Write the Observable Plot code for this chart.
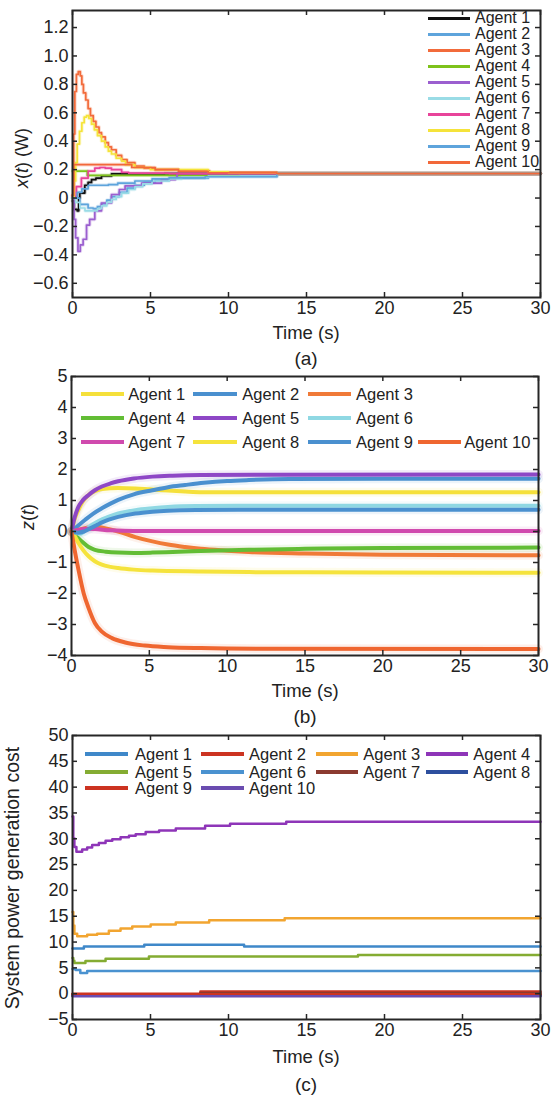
<!DOCTYPE html>
<html><head><meta charset="utf-8">
<script src="https://cdn.jsdelivr.net/npm/d3@7"></script>
<script src="https://cdn.jsdelivr.net/npm/@observablehq/plot@0.6"></script>
<style>
body{margin:0;background:#fff;}
#root{position:relative;width:551px;height:1099px;overflow:hidden;font-family:"Liberation Sans",Arial,sans-serif;color:#222;}
.abs{position:absolute;white-space:nowrap;}
.panel{position:absolute;left:0;}
</style></head><body><div id="root"></div>
<script>
// ---------- categories & ticks ----------
const agents = ["Agent 1","Agent 2","Agent 3","Agent 4","Agent 5","Agent 6","Agent 7","Agent 8","Agent 9","Agent 10"];
const timeTicks = [0,5,10,15,20,25,30];
const ticksA = [-0.6,-0.4,-0.2,0,0.2,0.4,0.6,0.8,1.0,1.2];
const ticksB = [-4,-3,-2,-1,0,1,2,3,4,5];
const ticksC = [-5,0,5,10,15,20,25,30,35,40,45,50];

// ---------- panel (a): x(t) (W), [t, value] ----------
const xA1 = [[0,-0.02],[0.1,-0.08],[0.3,-0.09],[0.4,0.0],[0.47,0.035],[0.79,0.09],[1.0,0.11],[1.22,0.13],[1.5,0.14],[1.86,0.155],[2.5,0.17],[5.9,0.172],[30,0.172]];
const xA2 = [[0,0],[0.47,-0.045],[1.0,-0.07],[1.33,-0.075],[1.6,-0.06],[1.86,-0.04],[2.2,-0.015],[2.5,0.01],[3.0,0.04],[3.5,0.07],[4.0,0.09],[4.6,0.11],[5.3,0.125],[6.2,0.14],[8.7,0.155],[13.1,0.172],[30,0.172]];
const xA3 = [[0,0.02],[0.08,0.45],[0.15,0.75],[0.25,0.87],[0.37,0.89],[0.5,0.86],[0.6,0.8],[0.7,0.74],[0.85,0.69],[1.0,0.63],[1.15,0.58],[1.33,0.54],[1.5,0.5],[1.7,0.46],[1.86,0.43],[2.1,0.39],[2.3,0.36],[2.5,0.34],[2.8,0.3],[3.15,0.27],[3.5,0.25],[4.0,0.225],[4.6,0.21],[5.3,0.2],[6.8,0.19],[8.8,0.18],[13.1,0.172],[30,0.172]];
const xA4 = [[0,0.19],[0.95,0.16],[10.7,0.172],[30,0.172]];
const xA5 = [[0,0],[0.1,-0.15],[0.2,-0.28],[0.35,-0.375],[0.5,-0.33],[0.68,-0.29],[0.9,-0.19],[1.1,-0.15],[1.43,-0.09],[1.86,-0.035],[2.5,0.025],[3.0,0.06],[3.37,0.085],[4.44,0.105],[5.7,0.13],[6.6,0.14],[6.7,0.172],[30,0.172]];
const xA6 = [[0,0],[0.2,-0.03],[0.47,-0.07],[0.8,-0.09],[1.33,-0.09],[1.6,-0.075],[1.86,-0.055],[2.2,-0.03],[2.5,-0.01],[2.8,0.01],[3.15,0.035],[3.6,0.06],[4.0,0.08],[4.5,0.1],[5.1,0.12],[6.2,0.135],[7,0.145],[8.7,0.155],[13.1,0.172],[30,0.172]];
const xA7 = [[0,0.01],[0.25,0.08],[0.57,0.14],[1.0,0.19],[1.43,0.21],[1.75,0.215],[2.1,0.21],[2.5,0.2],[3.15,0.18],[3.6,0.175],[6.2,0.172],[30,0.172]];
const xA8 = [[0,0.0],[0.1,0.12],[0.2,0.25],[0.3,0.38],[0.45,0.47],[0.6,0.53],[0.75,0.57],[0.9,0.58],[1.05,0.56],[1.22,0.52],[1.4,0.48],[1.6,0.44],[1.86,0.4],[2.1,0.36],[2.3,0.33],[2.5,0.31],[2.8,0.28],[3.15,0.26],[3.4,0.235],[4.0,0.215],[5.0,0.2],[8.7,0.185],[10,0.178],[13.1,0.172],[30,0.172]];
const xA9 = [[0,0],[0.3,0.04],[0.6,0.065],[1.0,0.09],[2.3,0.095],[2.9,0.105],[4.0,0.12],[5.1,0.135],[6.2,0.142],[8.5,0.15],[13.1,0.172],[30,0.172]];
const xA10 = [[0,0.02],[0.08,0.235],[3.8,0.215],[5.3,0.2],[6.8,0.188],[8.7,0.178],[13.1,0.172],[30,0.172]];
const colorsA = ["#111111","#5ea4dc","#f26b3b","#7ec21b","#9b5fcf","#9adce6","#e8449a","#f5e33a","#5ea4dc","#f2683a"];

// ---------- panel (b): z(t) ----------
const zB1 = [[0,0],[0.2,0.4],[0.45,0.7],[0.7,0.95],[1.1,1.18],[1.5,1.3],[1.95,1.37],[3,1.4],[4.1,1.39],[5,1.36],[6.2,1.32],[7.3,1.29],[8.4,1.27],[30,1.27]];
const zB2 = [[0,0],[0.4,0.18],[0.88,0.38],[1.4,0.58],[1.95,0.75],[2.5,0.9],[3.0,1.02],[4,1.2],[5.2,1.33],[6.2,1.43],[7.3,1.5],[8.5,1.57],[10,1.63],[11.4,1.66],[14,1.69],[20,1.7],[30,1.7]];
const zB3 = [[0,0],[0.5,0.06],[1,0.12],[1.6,0.15],[2.2,0.1],[3,0.0],[4.1,-0.18],[5.2,-0.32],[6.2,-0.42],[7.3,-0.5],[8.3,-0.56],[10,-0.62],[11.4,-0.66],[15,-0.71],[20,-0.75],[30,-0.77]];
const zB4 = [[0,0],[0.3,-0.15],[0.66,-0.32],[1.1,-0.5],[1.5,-0.59],[2.2,-0.65],[3,-0.68],[4,-0.69],[5.2,-0.68],[6.5,-0.66],[8.3,-0.63],[11.4,-0.59],[15,-0.56],[20,-0.53],[30,-0.52]];
const zB5 = [[0,0],[0.2,0.45],[0.45,0.8],[0.75,1.02],[1.1,1.18],[1.5,1.33],[1.95,1.45],[2.5,1.55],[3,1.62],[4,1.71],[5.2,1.77],[6.5,1.8],[8.3,1.82],[12,1.83],[30,1.84]];
const zB6 = [[0,0],[0.3,-0.05],[0.6,-0.07],[0.9,0.05],[1.2,0.17],[1.5,0.27],[2,0.4],[2.4,0.48],[3,0.58],[4.1,0.69],[5.2,0.75],[6.2,0.79],[8,0.82],[12,0.83],[30,0.83]];
const zB7 = [[0,0],[0.5,0.06],[1,0.09],[1.5,0.08],[2.5,0.04],[4,0.02],[30,0.02]];
const zB8 = [[0,0],[0.2,-0.15],[0.45,-0.37],[0.75,-0.6],[1.1,-0.8],[1.5,-0.96],[1.95,-1.07],[2.5,-1.14],[3,-1.18],[4,-1.23],[5.2,-1.26],[8.3,-1.29],[11.4,-1.31],[20,-1.32],[30,-1.33]];
const zB9 = [[0,0],[0.4,-0.04],[0.8,0.0],[1.2,0.1],[1.6,0.2],[2,0.3],[2.4,0.38],[3,0.47],[4.1,0.58],[5.2,0.64],[6.2,0.67],[8,0.69],[12,0.7],[30,0.7]];
const zB10 = [[0,0],[0.1,-0.3],[0.2,-0.59],[0.45,-1.24],[0.78,-1.99],[1.1,-2.47],[1.5,-2.95],[1.95,-3.23],[2.6,-3.44],[3.45,-3.58],[4.7,-3.68],[6.2,-3.73],[8.3,-3.76],[12,-3.78],[30,-3.79]];
const colorsB = ["#f5e03a","#4a90cf","#f07a38","#62bd35","#8e47c6","#8fd8e3","#d04aae","#f5e33c","#4a90cf","#ef6630"];

// ---------- panel (c): system power generation cost ----------
const cC1 = [[0,8.75],[0.73,9.15],[4.6,9.5],[11.0,9.15],[30,9.15]];
const cC2 = [[0,0],[8.2,0.4],[30,0.4]];
const cC3 = [[0,15.8],[0.05,13.2],[0.12,11.6],[0.3,11.1],[0.94,11.4],[1.58,11.6],[2.33,12.2],[3.08,12.6],[3.83,13.0],[5.01,13.4],[6.62,13.8],[8.76,14.2],[13.6,14.6],[30,14.6]];
const cC4 = [[0,34.3],[0.05,30.1],[0.12,28.4],[0.25,27.5],[0.62,27.9],[0.94,28.3],[1.26,28.8],[1.69,29.2],[2.12,29.6],[2.55,29.9],[3.08,30.3],[3.62,30.6],[4.05,30.9],[4.69,31.3],[5.55,31.6],[6.62,32.0],[8.5,32.5],[10.1,32.9],[13.7,33.3],[30,33.3]];
const cC5 = [[0,6.9],[0.05,6.4],[0.12,5.96],[0.83,6.35],[2.12,6.75],[4.9,7.2],[18.3,7.5],[30,7.5]];
const cC6 = [[0,4.8],[0.2,4.6],[0.5,4.0],[0.94,4.4],[30,4.4]];
const cC7 = [[0,-0.1],[8.2,0.15],[30,0.15]];
const cC8 = [[0,-0.3],[30,-0.3]];
const cC9 = [[0,-0.1],[30,-0.1]];
const cC10 = [[0,-0.5],[30,-0.5]];
const colorsC = ["#3f88c9","#cc3321","#f2a530","#8e35b8","#84ac32","#4a92d0","#8b3a30","#2d4f9e","#cc3321","#6a4cb0"];

// ---------- helpers ----------
function toRows(list){
  const out=[];
  list.forEach((s,i)=>s.forEach(([t,v])=>out.push({agent:agents[i],t,v})));
  return out;
}
const rowsA = toRows([xA1,xA2,xA3,xA4,xA5,xA6,xA7,xA8,xA9,xA10]);
const rowsB = toRows([zB1,zB2,zB3,zB4,zB5,zB6,zB7,zB8,zB9,zB10]);
const rowsC = toRows([cC1,cC2,cC3,cC4,cC5,cC6,cC7,cC8,cC9,cC10]);

const root = document.getElementById("root");
const FONT = '"Liberation Sans", Arial, sans-serif';
const INK = "#262626";
const TICKFONT = 18;
const minus = s => s.replace("-", "\u2212");

function makePanel(o){
  const fw = o.width - o.marginLeft - o.marginRight;
  const fh = o.height - o.marginTop - o.marginBottom;
  const marks = [];
  if (o.haloWidth) marks.push(Plot.line(o.rows,{x:"t",y:"v",z:"agent",stroke:"agent",strokeWidth:o.haloWidth,strokeOpacity:o.haloOpacity,curve:o.curve}));
  marks.push(Plot.line(o.rows,{x:"t",y:"v",z:"agent",stroke:"agent",strokeWidth:o.lineWidth,curve:o.curve}));
  marks.push(
    Plot.tickX(timeTicks,{x:d=>d,insetTop:fh-5,stroke:INK,strokeWidth:1.5}),
    Plot.tickX(timeTicks,{x:d=>d,insetBottom:fh-5,stroke:INK,strokeWidth:1.5}),
    Plot.tickY(o.yTicks,{y:d=>d,insetRight:fw-5,stroke:INK,strokeWidth:1.5}),
    Plot.tickY(o.yTicks,{y:d=>d,insetLeft:fw-5,stroke:INK,strokeWidth:1.5}),
    Plot.frame({stroke:INK,strokeWidth:2}),
    Plot.axisX(timeTicks,{tickSize:0,tickPadding:4,label:null,tickFormat:d=>String(d),fontSize:TICKFONT}),
    Plot.axisY(o.yTicks,{tickSize:0,tickPadding:4,label:null,tickFormat:o.yFormat,fontSize:TICKFONT})
  );
  const svg = Plot.plot({
    width:o.width,height:o.height,
    marginLeft:o.marginLeft,marginRight:o.marginRight,marginTop:o.marginTop,marginBottom:o.marginBottom,
    x:{domain:[0,30]},
    y:{domain:o.yDomain},
    color:{domain:agents,range:o.colors},
    style:{fontFamily:FONT,fontSize:TICKFONT+"px",color:"#222",background:"transparent",overflow:"visible"},
    marks
  });
  const div = document.createElement("div");
  div.className="panel";
  div.style.top = o.top+"px";
  div.appendChild(svg);
  root.appendChild(div);
}

function addText(html, x, y, size, opts={}){
  const d = document.createElement("div");
  d.className="abs";
  d.innerHTML = html;
  d.style.left = x+"px"; d.style.top = y+"px";
  d.style.fontSize = size+"px";
  d.style.lineHeight = "1";
  d.style.transform = opts.rotate ? "translate(-50%,-50%) rotate(-90deg)" : (opts.center ? "translate(-50%,-50%)" : "translate(0,-50%)");
  root.appendChild(d);
}
function addLegendLine(x1,x2,y,color,th){
  const d = document.createElement("div");
  d.className="abs";
  d.style.left=x1+"px"; d.style.width=(x2-x1)+"px";
  d.style.top=(y-th/2)+"px"; d.style.height=th+"px";
  d.style.background=color;
  root.appendChild(d);
}

// ---------- panel (a) ----------
makePanel({rows:rowsA,colors:colorsA,top:0,width:551,height:322,marginLeft:72,marginRight:11,marginTop:10,marginBottom:25,
  yDomain:[-0.7,1.32],yTicks:ticksA,yFormat:d=>d===0?"0":minus(d.toFixed(1)),curve:"step-after",lineWidth:1.7,haloWidth:3.6,haloOpacity:0.25});
agents.forEach((a,i)=>{
  const y = 18.3 + 16*i;
  addLegendLine(428,470,y,colorsA[i],3.5);
  addText(a,475,y,16);
});
addText('<i>x</i>(<i>t</i>) (W)',22,158,18,{rotate:true});
addText("Time (s)",306,333,18.5,{center:true});
addText("(a)",306,358,19,{center:true});

// ---------- panel (b) ----------
makePanel({rows:rowsB,colors:colorsB,top:366,width:551,height:314,marginLeft:71,marginRight:13,marginTop:10,marginBottom:25,
  yDomain:[-4,5],yTicks:ticksB,yFormat:d=>minus(String(d)),curve:"monotone-x",lineWidth:4,haloWidth:9,haloOpacity:0.1});
const legB = [[0,0],[0,1],[0,2],[1,0],[1,1],[1,2],[2,0],[2,1],[2,2],[2,3]];
const colsB = [[80.7,124,128.3],[193.3,236.7,242.3],[307.7,351,356],[417.7,461,464.3]];
const rowsBy = [394.3,418.3,441.7];
legB.forEach(([r,c],i)=>{
  const [x1,x2,xt]=colsB[c]; const y=rowsBy[r];
  addLegendLine(x1,x2,y,colorsB[i],4);
  addText(agents[i],xt,y,16.5);
});
addText('<i>z</i>(<i>t</i>)',28,517,18,{rotate:true});
addText("Time (s)",305,691,18.5,{center:true});
addText("(b)",305,716,19,{center:true});

// ---------- panel (c) ----------
makePanel({rows:rowsC,colors:colorsC,top:725,width:551,height:319,marginLeft:72,marginRight:11,marginTop:10,marginBottom:25,
  yDomain:[-5,50],yTicks:ticksC,yFormat:d=>minus(String(d)),curve:"step-after",lineWidth:2.5});
const legC = [[0,0],[0,1],[0,2],[0,3],[1,0],[1,1],[1,2],[1,3],[2,0],[2,1]];
const colsC = [[85,128.3,135],[201,244,249],[315.7,358.3,363.3],[426,468.3,473.3]];
const rowsCy = [754.3,771.7,787.7];
legC.forEach(([r,c],i)=>{
  const [x1,x2,xt]=colsC[c]; const y=rowsCy[r];
  addLegendLine(x1,x2,y,colorsC[i],4);
  addText(agents[i],xt,y,16.5);
});
addText("System power generation cost",13,878,19.5,{rotate:true});
addText("Time (s)",306,1057,18.5,{center:true});
addText("(c)",306,1084,19,{center:true});
</script></body></html>
